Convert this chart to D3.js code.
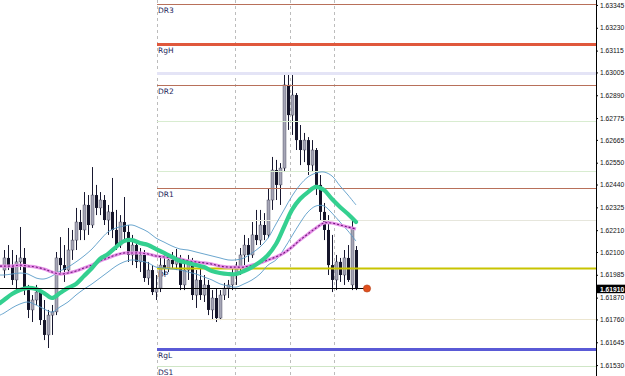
<!DOCTYPE html>
<html>
<head>
<meta charset="utf-8">
<script src="https://cdn.jsdelivr.net/npm/d3@7"></script>
<style>
  body { margin: 0; background: #fff; }
  svg { display: block; }
</style>
</head>
<body>
<div class="chart"></div>
<script>
// candles: [open, high, low, close]
var candles = [
  [1.62009, 1.62110, 1.61969, 1.62070], [1.62070, 1.62135, 1.62009, 1.62034],
  [1.62034, 1.62110, 1.61934, 1.61959], [1.61959, 1.62085, 1.61908, 1.62050],
  [1.62050, 1.62226, 1.62009, 1.62070], [1.62070, 1.62120, 1.61883, 1.61908],
  [1.61908, 1.61934, 1.61767, 1.61808], [1.61808, 1.61883, 1.61747, 1.61858],
  [1.61858, 1.61934, 1.61833, 1.61898], [1.61898, 1.61918, 1.61732, 1.61757],
  [1.61757, 1.61858, 1.61656, 1.61682], [1.61682, 1.61808, 1.61616, 1.61782],
  [1.61782, 1.61833, 1.61682, 1.61798], [1.61798, 1.62100, 1.61782, 1.62070],
  [1.62070, 1.62175, 1.61984, 1.62034], [1.62034, 1.62135, 1.61949, 1.62009],
  [1.62009, 1.62221, 1.61999, 1.62110], [1.62110, 1.62211, 1.62060, 1.62160],
  [1.62160, 1.62322, 1.62110, 1.62251], [1.62251, 1.62312, 1.62160, 1.62211],
  [1.62211, 1.62402, 1.62160, 1.62337], [1.62337, 1.62387, 1.62186, 1.62236],
  [1.62236, 1.62528, 1.62221, 1.62387], [1.62387, 1.62438, 1.62286, 1.62322],
  [1.62322, 1.62402, 1.62286, 1.62362], [1.62362, 1.62387, 1.62236, 1.62261],
  [1.62261, 1.62337, 1.62186, 1.62302], [1.62302, 1.62473, 1.62170, 1.62211],
  [1.62211, 1.62312, 1.62110, 1.62135], [1.62135, 1.62286, 1.62120, 1.62251],
  [1.62251, 1.62377, 1.62160, 1.62201], [1.62201, 1.62236, 1.62050, 1.62085],
  [1.62085, 1.62186, 1.62034, 1.62135], [1.62135, 1.62160, 1.62019, 1.62050],
  [1.62050, 1.62120, 1.61999, 1.62085], [1.62085, 1.62110, 1.61949, 1.61969],
  [1.61969, 1.62050, 1.61934, 1.62009], [1.62009, 1.62034, 1.61883, 1.61898],
  [1.61898, 1.61984, 1.61858, 1.61918], [1.61918, 1.62070, 1.61898, 1.62034],
  [1.62034, 1.62085, 1.61984, 1.62019], [1.62019, 1.62085, 1.61999, 1.62060],
  [1.62060, 1.62100, 1.62019, 1.62039], [1.62039, 1.62115, 1.62009, 1.62070],
  [1.62070, 1.62085, 1.61908, 1.61934], [1.61934, 1.62050, 1.61908, 1.62009],
  [1.62009, 1.62085, 1.61959, 1.62050], [1.62050, 1.62070, 1.61858, 1.61883],
  [1.61883, 1.62009, 1.61818, 1.61959], [1.61959, 1.62019, 1.61858, 1.61883],
  [1.61883, 1.61984, 1.61848, 1.61934], [1.61934, 1.61959, 1.61782, 1.61808],
  [1.61808, 1.61908, 1.61757, 1.61868], [1.61868, 1.61918, 1.61747, 1.61767],
  [1.61767, 1.61908, 1.61757, 1.61883], [1.61883, 1.61944, 1.61858, 1.61918],
  [1.61918, 1.61959, 1.61868, 1.61934], [1.61934, 1.62019, 1.61908, 1.61984],
  [1.61984, 1.62050, 1.61934, 1.62019], [1.62019, 1.62120, 1.61984, 1.62085],
  [1.62085, 1.62186, 1.62034, 1.62135], [1.62135, 1.62170, 1.62050, 1.62085],
  [1.62085, 1.62251, 1.62070, 1.62186], [1.62186, 1.62312, 1.62135, 1.62160],
  [1.62160, 1.62312, 1.62135, 1.62236], [1.62236, 1.62296, 1.62160, 1.62186],
  [1.62186, 1.62422, 1.62170, 1.62362], [1.62362, 1.62579, 1.62312, 1.62513],
  [1.62513, 1.62564, 1.62362, 1.62438], [1.62438, 1.62548, 1.62337, 1.62523],
  [1.62523, 1.63002, 1.62503, 1.62942], [1.62942, 1.63007, 1.62715, 1.62790],
  [1.62790, 1.62997, 1.62690, 1.62891], [1.62891, 1.62901, 1.62614, 1.62664],
  [1.62664, 1.62740, 1.62538, 1.62614], [1.62614, 1.62700, 1.62553, 1.62664],
  [1.62664, 1.62679, 1.62488, 1.62538], [1.62538, 1.62664, 1.62503, 1.62614],
  [1.62614, 1.62624, 1.62387, 1.62438], [1.62438, 1.62488, 1.62261, 1.62302],
  [1.62302, 1.62347, 1.62160, 1.62211], [1.62211, 1.62286, 1.61984, 1.62034],
  [1.62034, 1.62186, 1.61898, 1.61959], [1.61959, 1.62085, 1.61908, 1.62050],
  [1.62050, 1.62070, 1.61949, 1.61984], [1.61984, 1.62110, 1.61934, 1.62070],
  [1.62070, 1.62135, 1.61949, 1.61959], [1.61934, 1.62271, 1.61908, 1.62221],
  [1.62110, 1.62130, 1.61908, 1.61918]
];

// bar index positions where the indicator lines were read
var maIndex = [-1, 0, 2, 4, 6, 8, 10, 12, 14, 16, 18, 20, 22, 24, 26, 28, 30, 32, 34, 36, 38, 40, 42,
  44, 46, 48, 50, 52, 54, 56, 58, 60, 62, 64, 66, 68, 70, 72, 74, 76, 78, 80, 82, 84, 86, 88];

var maFast = [1.61843, 1.61858, 1.61888, 1.61908, 1.61919, 1.61913, 1.61893, 1.61868, 1.61893, 1.61919,
  1.61939, 1.61979, 1.62019, 1.62065, 1.62090, 1.62125, 1.62155, 1.62160, 1.62145, 1.62135, 1.62115,
  1.62095, 1.62075, 1.62055, 1.62045, 1.62034, 1.62024, 1.62004, 1.61994, 1.61989, 1.61989, 1.62004,
  1.62024, 1.62050, 1.62085, 1.62140, 1.62226, 1.62312, 1.62367, 1.62402, 1.62428, 1.62412, 1.62367,
  1.62327, 1.62291, 1.62251];

var maSlow = [1.62029, 1.62029, 1.62029, 1.62034, 1.62029, 1.62024, 1.62014, 1.61999, 1.61989, 1.61994,
  1.62004, 1.62019, 1.62034, 1.62055, 1.62070, 1.62085, 1.62095, 1.62095, 1.62095, 1.62090, 1.62080,
  1.62075, 1.62070, 1.62065, 1.62055, 1.62050, 1.62045, 1.62039, 1.62029, 1.62024, 1.62024, 1.62024,
  1.62034, 1.62045, 1.62060, 1.62075, 1.62095, 1.62125, 1.62160, 1.62191, 1.62221, 1.62246, 1.62246,
  1.62236, 1.62226, 1.62216];

var bandUpper = [1.61984, 1.61984, 1.61989, 1.61994, 1.61989, 1.61969, 1.61964, 1.61979, 1.62004, 1.62024,
  1.62050, 1.62080, 1.62115, 1.62160, 1.62201, 1.62221, 1.62231, 1.62236, 1.62221, 1.62201, 1.62170,
  1.62150, 1.62130, 1.62115, 1.62110, 1.62100, 1.62090, 1.62080, 1.62070, 1.62060, 1.62060, 1.62070,
  1.62095, 1.62125, 1.62170, 1.62241, 1.62312, 1.62382, 1.62438, 1.62478, 1.62498, 1.62503, 1.62483,
  1.62433, 1.62387, 1.62337];

var bandLower = [1.61782, 1.61792, 1.61818, 1.61838, 1.61848, 1.61833, 1.61813, 1.61797, 1.61823, 1.61848,
  1.61883, 1.61913, 1.61939, 1.61969, 1.61999, 1.62029, 1.62050, 1.62060, 1.62055, 1.62045, 1.62024,
  1.62019, 1.62014, 1.62009, 1.61999, 1.61989, 1.61974, 1.61959, 1.61939, 1.61929, 1.61923, 1.61939,
  1.61959, 1.61989, 1.62034, 1.62060, 1.62115, 1.62181, 1.62246, 1.62302, 1.62332, 1.62332, 1.62296,
  1.62251, 1.62206, 1.62155];

// horizontal levels
var levelNames  = ["DR3", "RgH", "", "DR2", "", "", "DR1", "", "DP", "", "RgL", "DS1"];
var levelKinds  = ["dr", "rgh", "hi", "dr", "mid", "mid", "dr", "mid2", "dp", "mid3", "rgl", "ds"];
var levelValues = [1.63350, 1.63148, 1.63002, 1.62942, 1.62760, 1.62508, 1.62422, 1.62261, 1.62019,
  1.61762, 1.61611, 1.61525];

var separators = [38.25, 57.75, 71.5, 82.5];   // bar index of period separators
var priceTicks = [1.63345, 1.63230, 1.63115, 1.63005, 1.62890, 1.62775, 1.62665, 1.62550, 1.62440,
  1.62325, 1.62210, 1.62100, 1.61985, 1.61870, 1.61760, 1.61645, 1.61530];
var lastPrice = 1.61910;
var trendPrice = 1.61918;
var trendEnd = 90.75;   // bar index where the horizontal trend line ends

var levelStyle = {
  dr:   { color: "#b8705a", width: 1 },
  ds:   { color: "#cfe6c6", width: 1 },
  rgh:  { color: "#e0583c", width: 3 },
  hi:   { color: "#e4e4f6", width: 3 },
  mid:  { color: "#d8ecd0", width: 1 },
  mid2: { color: "#e6e6dc", width: 1 },
  mid3: { color: "#ece6d0", width: 1 },
  dp:   { color: "#c8c400", width: 2 },
  rgl:  { color: "#5a5ad6", width: 3 }
};

var svgWidth = 625;
var svgHeight = 376;
var plotRight = 596;

var svg = d3.select(".chart")
  .append("svg")
  .attr("width", svgWidth)
  .attr("height", svgHeight)
  .style("font-family", "'DejaVu Sans', sans-serif");

svg.append("rect")
  .attr("width", svgWidth)
  .attr("height", svgHeight)
  .attr("fill", "#fff");

var xScale = d3.scaleLinear().domain([0, 88]).range([4, 356]);
var yScale = d3.scaleLinear().domain([1.61475, 1.63370]).range([svgHeight, 0]);

// period separators
svg.selectAll(".sep")
  .data(separators)
  .enter()
  .append("line")
  .attr("x1", d => Math.round(xScale(d)) + 0.5)
  .attr("x2", d => Math.round(xScale(d)) + 0.5)
  .attr("y1", 0)
  .attr("y2", svgHeight)
  .attr("stroke", "#bcbcbc")
  .attr("stroke-dasharray", "3,3");

// level labels (under the bars)
var levels = levelValues.map((v, i) => ({ value: v, name: levelNames[i], kind: levelKinds[i] }));
var levelStart = xScale(separators[0]);

svg.selectAll(".lvl-label")
  .data(levels.filter(d => d.name))
  .enter()
  .append("text")
  .attr("x", levelStart + 1)
  .attr("y", d => Math.min(Math.round(yScale(d.value)) + 9, svgHeight - 1))
  .attr("font-size", "7.5px")
  .attr("fill", "#1e1e5a")
  .text(d => d.name);

// candles
var bars = svg.append("g");
candles.forEach(function (d, i) {
  var cx = Math.round(xScale(i));
  var up = d[3] >= d[0];
  bars.append("line")
    .attr("x1", cx + 0.5).attr("x2", cx + 0.5)
    .attr("y1", yScale(d[1])).attr("y2", yScale(d[2]))
    .attr("stroke", "#181830");
  var top = yScale(Math.max(d[0], d[3]));
  var bot = yScale(Math.min(d[0], d[3]));
  bars.append("rect")
    .attr("x", cx - 1)
    .attr("width", 3)
    .attr("y", top)
    .attr("height", Math.max(1, bot - top))
    .attr("fill", up ? "#a6a6b6" : "#15152a")
    .attr("stroke", up ? "#3a3a50" : "none")
    .attr("stroke-width", 0.4);
});

// level lines
svg.selectAll(".lvl")
  .data(levels)
  .enter()
  .append("line")
  .attr("x1", levelStart)
  .attr("x2", plotRight)
  .attr("y1", d => Math.round(yScale(d.value)) + 0.5)
  .attr("y2", d => Math.round(yScale(d.value)) + 0.5)
  .attr("stroke", d => levelStyle[d.kind].color)
  .attr("stroke-width", d => levelStyle[d.kind].width);

// indicator lines
var lineGen = function (values) {
  return d3.line()
    .x((d, i) => xScale(maIndex[i]))
    .y(d => yScale(d))
    .curve(d3.curveCatmullRom)(values);
};

[bandUpper, bandLower].forEach(function (band) {
  svg.append("path")
    .attr("d", lineGen(band))
    .attr("fill", "none")
    .attr("stroke", "#5a9cc8")
    .attr("stroke-width", 0.9);
});

svg.append("path")
  .attr("d", lineGen(maSlow))
  .attr("fill", "none")
  .attr("stroke", "#e690e8")
  .attr("stroke-width", 3.2);

svg.append("path")
  .attr("d", lineGen(maSlow))
  .attr("fill", "none")
  .attr("stroke", "#6e1a78")
  .attr("stroke-width", 1.1)
  .attr("stroke-dasharray", "2,2");

svg.append("path")
  .attr("d", lineGen(maFast))
  .attr("fill", "none")
  .attr("stroke", "#34d090")
  .attr("stroke-width", 4.2)
  .attr("stroke-linecap", "round");

// horizontal trend line at current price + marker
var trendY = Math.round(yScale(trendPrice)) + 0.5;
svg.append("line")
  .attr("x1", 0)
  .attr("x2", xScale(trendEnd))
  .attr("y1", trendY)
  .attr("y2", trendY)
  .attr("stroke", "#000")
  .attr("stroke-width", 1.2);

svg.append("circle")
  .attr("cx", xScale(trendEnd))
  .attr("cy", trendY)
  .attr("r", 3.6)
  .attr("fill", "#e0501e")
  .attr("stroke", "#b03a10")
  .attr("stroke-width", 0.6);

// price axis
var rightAxis = d3.axisRight(yScale)
  .tickValues(priceTicks)
  .tickSize(2)
  .tickPadding(2)
  .tickFormat(d3.format(".5f"));

var axisG = svg.append("g")
  .attr("transform", `translate(${plotRight}, 0)`)
  .call(rightAxis);

axisG.select(".domain").remove();
axisG.selectAll("text")
  .attr("font-family", "'Liberation Sans', Arial, sans-serif")
  .attr("font-size", "6.7px")
  .attr("fill", "#111");

svg.append("line")
  .attr("x1", plotRight + 0.5)
  .attr("x2", plotRight + 0.5)
  .attr("y1", 0)
  .attr("y2", svgHeight)
  .attr("stroke", "#000");

// last price label
var lastY = yScale(lastPrice);
svg.append("rect")
  .attr("x", plotRight + 1)
  .attr("y", lastY - 5)
  .attr("width", 28)
  .attr("height", 8.5)
  .attr("fill", "#000");

svg.append("text")
  .attr("x", plotRight + 4)
  .attr("y", lastY + 2)
  .attr("font-family", "'Liberation Sans', Arial, sans-serif")
  .attr("font-size", "6.7px")
  .attr("font-weight", "bold")
  .attr("fill", "#fff")
  .text(d3.format(".5f")(lastPrice));
</script>
</body>
</html>
